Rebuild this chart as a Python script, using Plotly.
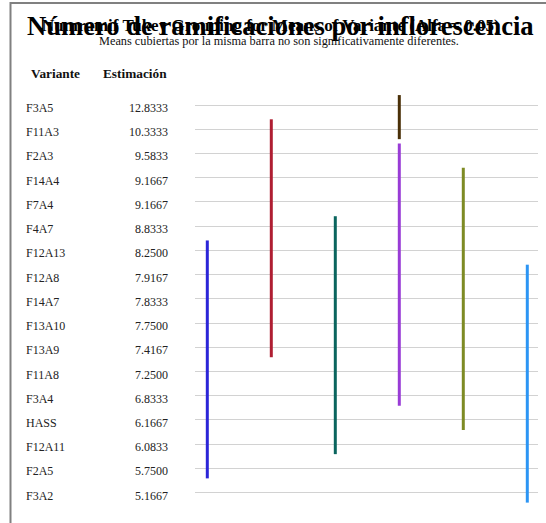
import plotly.graph_objects as go

# ---- data ----
variantes = ["F3A5", "F11A3", "F2A3", "F14A4", "F7A4", "F4A7", "F12A13", "F12A8",
             "F14A7", "F13A10", "F13A9", "F11A8", "F3A4", "HASS", "F12A11", "F2A5", "F3A2"]
estimaciones = [12.8333, 10.3333, 9.5833, 9.1667, 9.1667, 8.8333, 8.2500, 7.9167,
                7.8333, 7.7500, 7.4167, 7.2500, 6.8333, 6.1667, 6.0833, 5.7500, 5.1667]

# Tukey grouping bars: column, first variant, last variant
grupo_columna = [0, 1, 2, 3, 3, 4, 5]
grupo_inicio = ["F12A13", "F11A3", "F4A7", "F3A5", "F2A3", "F14A4", "F12A8"]
grupo_fin = ["F2A5", "F13A9", "F12A11", "F11A3", "F3A4", "HASS", "F3A2"]
grupo_color = ["#2B25D8", "#AF1E32", "#0A655E", "#4A3008", "#993CD6", "#7E8B24", "#2C95F4"]

W, H = 546, 523
FONT = "Liberation Serif"

fig = go.Figure()

# outer frame (top and left border) on an overlay axis in pixel units
fig.add_trace(go.Scatter(
    x=[W, 10.5, 10.5], y=[3, 3, H], xaxis="x2", yaxis="y2", mode="lines",
    line=dict(color="#808080", width=2), hoverinfo="skip", showlegend=False))

idx = {v: i for i, v in enumerate(variantes)}
ext = 0.41
for c, a, b, col in zip(grupo_columna, grupo_inicio, grupo_fin, grupo_color):
    fig.add_trace(go.Scatter(
        x=[c, c], y=[idx[a] - ext, idx[b] + ext], mode="lines",
        line=dict(color=col, width=3), hoverinfo="skip", showlegend=False))

# table text
for i, (v, e) in enumerate(zip(variantes, estimaciones)):
    fig.add_annotation(x=24 / W, y=i, xref="paper", yref="y", text=v, showarrow=False, yshift=-3,
                       xanchor="left", yanchor="middle", font=dict(family=FONT, size=12, color="#222"))
    fig.add_annotation(x=170 / W, y=i, xref="paper", yref="y", text=f"{e:.4f}", showarrow=False, yshift=-3,
                       xanchor="right", yanchor="middle", font=dict(family=FONT, size=12, color="#222"))

fig.add_annotation(x=29 / W, y=1 - 73.5 / H, xref="paper", yref="paper", text="<b>Variante</b>",
                   showarrow=False, xanchor="left", yanchor="middle",
                   font=dict(family=FONT, size=13.3, color="#111"))
fig.add_annotation(x=168.5 / W, y=1 - 73.5 / H, xref="paper", yref="paper", text="<b>Estimación</b>",
                   showarrow=False, xanchor="right", yanchor="middle",
                   font=dict(family=FONT, size=13.3, color="#111"))

# titles
fig.add_annotation(x=280 / W, y=1 - 26.5 / H, xref="paper", yref="paper",
                   text="<b>Número de ramificaciones por inflorescencia</b>", showarrow=False,
                   xanchor="center", yanchor="middle", font=dict(family=FONT, size=26.6, color="#000"))
fig.add_annotation(x=271 / W, y=1 - 25 / H, xref="paper", yref="paper",
                   text="<b>Numramif Tukey Grouping for Means of Variante (Alfa = 0.05)</b>", showarrow=False,
                   xanchor="center", yanchor="middle", font=dict(family=FONT, size=17, color="#000"))
fig.add_annotation(x=279 / W, y=1 - 41.5 / H, xref="paper", yref="paper",
                   text="Means cubiertas por la misma barra no son significativamente diferentes.",
                   showarrow=False, xanchor="center", yanchor="middle",
                   font=dict(family=FONT, size=12.3, color="#111"))

row0, step = 105.0, 24.23
x_left, x_right, col0, colstep = 195.0, 538.0, 207.3, 64.0

hidden = dict(showgrid=False, zeroline=False, showticklabels=False, ticks="", fixedrange=True)
fig.update_layout(
    width=W, height=H, margin=dict(l=0, r=0, t=0, b=0),
    paper_bgcolor="white", plot_bgcolor="rgba(0,0,0,0)",
    xaxis=dict(domain=[x_left / W, x_right / W],
               range=[(x_left - col0) / colstep, (x_right - col0) / colstep], **hidden),
    yaxis=dict(range=[(H - row0) / step, -row0 / step], domain=[0, 1],
               tickvals=list(range(len(variantes))), showticklabels=False, ticks="",
               showgrid=True, gridcolor="#d2d2d2", gridwidth=1, zeroline=False, fixedrange=True),
    xaxis2=dict(domain=[0, 1], range=[0, W], anchor="y2", **hidden),
    yaxis2=dict(domain=[0, 1], range=[H, 0], anchor="x2", **hidden),
)

fig.write_html("out.html", config={"displayModeBar": False},
               post_script="document.body.style.margin='0';document.body.style.overflow='hidden';")
